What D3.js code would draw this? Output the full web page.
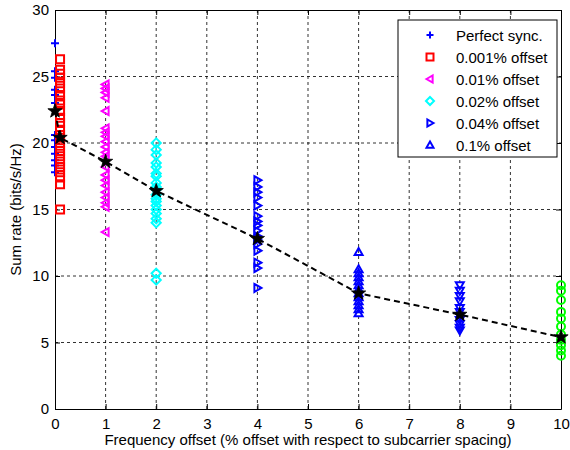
<!DOCTYPE html>
<html lang="en">
<head>
<meta charset="UTF-8">
<title>Sum rate vs frequency offset</title>
<script src="https://d3js.org/d3.v7.min.js"></script>
<style>
  body { margin: 0; background: #fff; }
  text { font-family: "Liberation Sans", Arial, sans-serif; fill: #000; }
  .tick text { font-size: 15px; }
</style>
</head>
<body>
<div id="chart"></div>
<script>
// ---- data ----
var xTicks = [0, 1, 2, 3, 4, 5, 6, 7, 8, 9, 10];
var yTicks = [0, 5, 10, 15, 20, 25, 30];

var perfectSync = [27.5, 25.4, 24.9, 24.0, 23.6, 23.0, 20.6, 20.2, 19.7, 19.2, 18.7, 18.3, 17.8];
var offset0001 = [26.3, 25.5, 25.2, 24.9, 24.5, 24.1, 23.6, 23.2, 22.9, 22.4, 21.9, 21.5, 21.0, 20.6, 20.2,
                  19.8, 19.4, 19.0, 18.6, 18.2, 17.8, 17.4, 16.9, 15.0];
var offset001 = [24.4, 24.1, 23.8, 23.4, 22.4, 21.1, 20.8, 20.5, 20.1, 19.7, 19.3, 19.0, 18.2, 17.6, 17.2,
                 16.8, 16.3, 15.9, 15.5, 15.2, 13.3];
var offset002 = [20.0, 19.5, 19.1, 18.5, 18.2, 17.7, 17.5, 17.0, 16.7, 16.5, 16.1, 15.8, 15.6, 15.3, 15.0,
                 14.7, 14.3, 14.0, 10.2, 9.7];
var offset004 = [17.2, 16.7, 16.3, 15.9, 15.3, 14.5, 14.1, 13.8, 13.4, 13.0, 12.7, 12.4, 11.9, 11.0, 10.6, 9.1];
var offset01 = [11.8, 10.5, 10.2, 9.9, 9.6, 9.3, 9.0, 8.7, 8.4, 8.1, 7.8, 7.5, 7.2];
var offset8 = [9.3, 8.9, 8.5, 8.1, 7.6, 7.3, 7.0, 6.7, 6.4, 6.1, 5.9];
var offset10 = [9.3, 8.9, 8.2, 7.3, 6.8, 6.2, 5.6, 5.2, 4.8, 4.4, 4.0];

var meanX = [0, 0.1, 1, 2, 4, 6, 8, 10];
var meanY = [22.4, 20.4, 18.6, 16.4, 12.8, 8.7, 7.1, 5.4];

var series = [
  { name: "Perfect sync.",  x: 0,   values: perfectSync, shape: "plus",     color: "#0000ff", legend: true },
  { name: "0.001% offset",  x: 0.1, values: offset0001,  shape: "square",   color: "#ff0000", legend: true },
  { name: "0.01% offset",   x: 1,   values: offset001,   shape: "triLeft",  color: "#ff00ff", legend: true },
  { name: "0.02% offset",   x: 2,   values: offset002,   shape: "diamond",  color: "#00ffff", legend: true },
  { name: "0.04% offset",   x: 4,   values: offset004,   shape: "triRight", color: "#0000ff", legend: true },
  { name: "0.1% offset",    x: 6,   values: offset01,    shape: "triUp",    color: "#0000ff", legend: true },
  { name: "",               x: 8,   values: offset8,     shape: "triDown",  color: "#0000ff", legend: false },
  { name: "",               x: 10,  values: offset10,    shape: "circle",   color: "#00ff00", legend: false }
];

// ---- layout ----
var W = 570, H = 450;
var margin = { top: 10, right: 9, bottom: 41, left: 55 };
var width = W - margin.left - margin.right,
    height = H - margin.top - margin.bottom;

var svg = d3.select("#chart").append("svg")
    .attr("width", W)
    .attr("height", H);

var g = svg.append("g")
    .attr("transform", "translate(" + margin.left + "," + margin.top + ")");

var x = d3.scaleLinear().domain([0, 10]).range([0, width]);
var y = d3.scaleLinear().domain([0, 30]).range([height, 0]);

// grid
g.selectAll(".vgrid")
    .data(xTicks.slice(1, -1))
    .enter().append("line")
    .attr("x1", function(d) { return x(d); })
    .attr("x2", function(d) { return x(d); })
    .attr("y1", 0).attr("y2", height)
    .attr("stroke", "#000").attr("stroke-width", 1)
    .attr("stroke-dasharray", "3,3").attr("opacity", 0.8);

g.selectAll(".hgrid")
    .data(yTicks.slice(1, -1))
    .enter().append("line")
    .attr("y1", function(d) { return y(d); })
    .attr("y2", function(d) { return y(d); })
    .attr("x1", 0).attr("x2", width)
    .attr("stroke", "#000").attr("stroke-width", 1)
    .attr("stroke-dasharray", "3,3").attr("opacity", 0.8);

// axes (ticks pointing inward, on all four sides)
var xAxis = g.append("g")
    .attr("transform", "translate(0," + height + ")")
    .call(d3.axisBottom(x).tickValues(xTicks).tickSizeInner(-5).tickSizeOuter(0).tickPadding(9));
var xAxisTop = g.append("g")
    .call(d3.axisTop(x).tickValues(xTicks).tickSizeInner(-5).tickSizeOuter(0).tickFormat(""));
var yAxis = g.append("g")
    .call(d3.axisLeft(y).tickValues(yTicks).tickSizeInner(-5).tickSizeOuter(0).tickPadding(6));
var yAxisRight = g.append("g")
    .attr("transform", "translate(" + width + ",0)")
    .call(d3.axisRight(y).tickValues(yTicks).tickSizeInner(-5).tickSizeOuter(0).tickFormat(""));

[xAxis, xAxisTop, yAxis, yAxisRight].forEach(function(a) {
  a.selectAll("path, line").attr("stroke", "#000");
  a.select(".domain").attr("stroke-width", 1);
});

// marker paths
function markerPath(shape, s) {
  var t;
  switch (shape) {
    case "plus":
      return "M" + (-s) + ",0H" + s + "M0," + (-s) + "V" + s;
    case "square":
      return "M" + (-s) + "," + (-s) + "H" + s + "V" + s + "H" + (-s) + "Z";
    case "diamond":
      t = s * 1.15;
      return "M0," + (-t) + "L" + t + ",0L0," + t + "L" + (-t) + ",0Z";
    case "triUp":
      return "M0," + (-s) + "L" + s + "," + s * 0.75 + "L" + (-s) + "," + s * 0.75 + "Z";
    case "triDown":
      return "M0," + s + "L" + s + "," + (-s * 0.75) + "L" + (-s) + "," + (-s * 0.75) + "Z";
    case "triLeft":
      return "M" + (-s) + ",0L" + s * 0.75 + "," + (-s) + "L" + s * 0.75 + "," + s + "Z";
    case "triRight":
      return "M" + s + ",0L" + (-s * 0.75) + "," + (-s) + "L" + (-s * 0.75) + "," + s + "Z";
    case "circle":
      return d3.symbol().type(d3.symbolCircle).size(Math.PI * s * s)();
  }
}

function starPath(R, r) {
  var pts = [];
  for (var i = 0; i < 10; i++) {
    var rad = i % 2 === 0 ? R : r;
    var a = -Math.PI / 2 + i * Math.PI / 5;
    pts.push([rad * Math.cos(a), rad * Math.sin(a)]);
  }
  return "M" + pts.map(function(p) { return p[0].toFixed(2) + "," + p[1].toFixed(2); }).join("L") + "Z";
}

// scatter markers
series.forEach(function(s) {
  g.append("g").selectAll("path")
    .data(s.values)
    .enter().append("path")
    .attr("transform", function(d) { return "translate(" + x(s.x) + "," + y(d) + ")"; })
    .attr("d", markerPath(s.shape, 4))
    .attr("fill", "none")
    .attr("stroke", s.color)
    .attr("stroke-width", 2);
});

// mean curve
var meanData = meanX.map(function(v, i) { return { x: v, y: meanY[i] }; });
var line = d3.line()
    .x(function(d) { return x(d.x); })
    .y(function(d) { return y(d.y); });

g.append("path")
    .datum(meanData)
    .attr("d", line)
    .attr("fill", "none")
    .attr("stroke", "#000")
    .attr("stroke-width", 2)
    .attr("stroke-dasharray", "6,4");

g.selectAll(".star")
    .data(meanData)
    .enter().append("path")
    .attr("transform", function(d) { return "translate(" + x(d.x) + "," + y(d.y) + ")"; })
    .attr("d", starPath(7.5, 3))
    .attr("fill", "#000")
    .attr("stroke", "#000")
    .attr("stroke-width", 0.8);

// axis labels
svg.append("text")
    .attr("x", margin.left + width / 2)
    .attr("y", 445)
    .attr("text-anchor", "middle")
    .style("font-size", "15px")
    .text("Frequency offset (% offset with respect to subcarrier spacing)");

svg.append("text")
    .attr("transform", "translate(21," + (margin.top + height / 2) + ") rotate(-90)")
    .attr("text-anchor", "middle")
    .style("font-size", "15px")
    .text("Sum rate (bits/s/Hz)");

// legend
var legendItems = series.filter(function(s) { return s.legend; });
var lg = svg.append("g").attr("transform", "translate(398,20)");
lg.append("rect")
    .attr("width", 159)
    .attr("height", 137)
    .attr("fill", "#fff")
    .attr("stroke", "#000")
    .attr("stroke-width", 1);

var rows = lg.selectAll(".lrow")
    .data(legendItems)
    .enter().append("g")
    .attr("transform", function(d, i) { return "translate(0," + (15 + i * 22) + ")"; });

rows.append("path")
    .attr("transform", "translate(32,0)")
    .attr("d", function(d) { return markerPath(d.shape, 3.5); })
    .attr("fill", "none")
    .attr("stroke", function(d) { return d.color; })
    .attr("stroke-width", 2);

rows.append("text")
    .attr("x", 58)
    .attr("y", 5.5)
    .style("font-size", "15px")
    .text(function(d) { return d.name; });
</script>
</body>
</html>
